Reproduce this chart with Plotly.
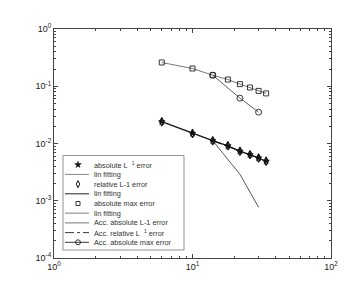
import plotly.graph_objects as go

# ---- data ----
x_err = [6, 10, 14, 18, 22, 26, 30, 34]
abs_l1 = [0.024, 0.015, 0.0112, 0.0091, 0.0073, 0.0064, 0.0056, 0.0049]
rel_l1 = [0.024, 0.015, 0.0112, 0.0091, 0.0073, 0.0064, 0.0056, 0.0049]
abs_max = [0.26, 0.204, 0.156, 0.131, 0.109, 0.095, 0.083, 0.075]
fit_abs_l1 = [0.024, 0.015, 0.0112, 0.0091, 0.0073, 0.0064, 0.0056, 0.0049]
fit_rel_l1 = [0.024, 0.015, 0.0112, 0.0091, 0.0073, 0.0064, 0.0056, 0.0049]
fit_abs_max = [0.26, 0.204, 0.156, 0.131, 0.109, 0.095, 0.083, 0.075]
x_acc = [14, 22, 30]
acc_abs_l1 = [0.0112, 0.0029, 0.00077]
acc_rel_l1 = [0.0112, 0.0073, 0.0056]
acc_abs_max = [0.156, 0.062, 0.0353]

x_ticks = [1, 10, 100]
x_tick_text = ["10<sup>0</sup>", "10<sup>1</sup>", "10<sup>2</sup>"]
y_ticks = [1e-4, 1e-3, 1e-2, 1e-1, 1]
y_tick_text = ["10<sup>-4</sup>", "10<sup>-3</sup>", "10<sup>-2</sup>", "10<sup>-1</sup>", "10<sup>0</sup>"]

legend_labels = [
    "absolute L\u00a0\u00a0<sup>1</sup> error",
    "lin fitting",
    "relative L-1 error",
    "lin fitting",
    "absolute max error",
    "lin fitting",
    "Acc. absolute L-1 error",
    "Acc. relative L\u00a0\u00a0<sup>1</sup> error",
    "Acc. absolute max error",
]

FONT = "Liberation Sans, Arial, sans-serif"
fig = go.Figure()

# lin fitting lines
fig.add_trace(go.Scatter(x=x_err, y=fit_abs_l1, mode="lines", line=dict(color="#777", width=1)))
fig.add_trace(go.Scatter(x=x_err, y=fit_rel_l1, mode="lines", line=dict(color="#222", width=1.3)))
fig.add_trace(go.Scatter(x=x_err, y=fit_abs_max, mode="lines", line=dict(color="#555", width=0.8)))
# acc errors
fig.add_trace(go.Scatter(x=x_acc, y=acc_abs_l1, mode="lines", line=dict(color="#444", width=0.9)))
fig.add_trace(go.Scatter(x=x_acc, y=acc_rel_l1, mode="lines", line=dict(color="#111", width=1, dash="dashdot")))
fig.add_trace(go.Scatter(x=x_acc, y=acc_abs_max, mode="lines+markers", line=dict(color="#333", width=0.8),
                         marker=dict(symbol="circle-open", size=6, color="#222", line=dict(width=0.9))))
# marker series
fig.add_trace(go.Scatter(x=x_err, y=abs_max, mode="markers",
                         marker=dict(symbol="square-open", size=5, color="#222", line=dict(width=0.9))))
fig.add_trace(go.Scatter(x=x_err, y=rel_l1, mode="markers",
                         marker=dict(symbol="diamond-tall-open", size=6, color="#111", line=dict(width=1.2))))
fig.add_trace(go.Scatter(x=x_err, y=abs_l1, mode="markers",
                         marker=dict(symbol="star", size=5, color="#111", line=dict(width=0.6, color="#111"))))

# ---- hand-made legend on a pixel-unit overlay axis ----
L_X0, L_X1, L_TOP, L_BOT = 55, 176, 147.5, 242
row_y = [156.7 + 9.7 * i for i in range(9)]
GL0, GL1, GM, TX = 57, 81, 70, 84
styles = [
    ("marker", dict(symbol="star", size=5, color="#111", line=dict(width=0.5, color="#111")), None),
    ("line", None, dict(color="#888", width=1)),
    ("marker", dict(symbol="diamond-tall-open", size=5, color="#111", line=dict(width=1)), None),
    ("line", None, dict(color="#222", width=1)),
    ("marker", dict(symbol="square-open", size=4, color="#222", line=dict(width=0.9)), None),
    ("line", None, dict(color="#aaa", width=1.5)),
    ("line", None, dict(color="#777", width=1)),
    ("line", None, dict(color="#222", width=0.9, dash="dashdot")),
    ("both", dict(symbol="circle-open", size=5, color="#222", line=dict(width=0.9)), dict(color="#222", width=0.9)),
]
for (kind, mk, ln), yy in zip(styles, row_y):
    if kind in ("line", "both"):
        fig.add_trace(go.Scatter(x=[GL0, GL1], y=[yy, yy], mode="lines", line=ln,
                                 xaxis="x2", yaxis="y2", hoverinfo="skip"))
    if kind in ("marker", "both"):
        fig.add_trace(go.Scatter(x=[GM], y=[yy], mode="markers", marker=mk,
                                 xaxis="x2", yaxis="y2", hoverinfo="skip"))

annotations = []
for lab, yy in zip(legend_labels, row_y):
    annotations.append(dict(x=TX, y=yy, xref="x2", yref="y2", text=lab, showarrow=False,
                            xanchor="left", yanchor="middle",
                            font=dict(family=FONT, size=7.3, color="#333")))

shapes = [dict(type="rect", xref="x2", yref="y2", x0=L_X0, x1=L_X1, y0=L_TOP, y1=L_BOT,
               line=dict(color="#777", width=0.8), fillcolor="white", layer="below")]

axis_common = dict(
    showgrid=False, zeroline=False, showline=True, linecolor="#444", linewidth=1,
    mirror="ticks", ticks="inside", ticklen=4, tickwidth=0.8, tickcolor="#444",
    tickfont=dict(family=FONT, size=9, color="#222"),
)
minor_x = [v * m for v in (1, 10) for m in range(2, 10)]
minor_y = [v * m for v in (1e-4, 1e-3, 1e-2, 1e-1) for m in range(2, 10)]

fig.update_layout(
    width=357, height=282,
    margin=dict(l=46, r=34, t=21, b=32),
    paper_bgcolor="white", plot_bgcolor="white",
    showlegend=False,
    xaxis=dict(type="log", range=[0, 2], tickmode="array", tickvals=x_ticks, ticktext=x_tick_text,
               minor=dict(tickmode="array", tickvals=minor_x, ticks="inside", ticklen=2, tickcolor="#444"),
               **axis_common),
    yaxis=dict(type="log", range=[-4, 0], tickmode="array", tickvals=y_ticks, ticktext=y_tick_text,
               minor=dict(tickmode="array", tickvals=minor_y, ticks="inside", ticklen=2, tickcolor="#444"),
               **axis_common),
    xaxis2=dict(overlaying="x", range=[46, 323], visible=False, fixedrange=True),
    yaxis2=dict(overlaying="y", range=[250, 21], visible=False, fixedrange=True),
    annotations=annotations,
    shapes=shapes,
)

fig.write_html("out.html")
